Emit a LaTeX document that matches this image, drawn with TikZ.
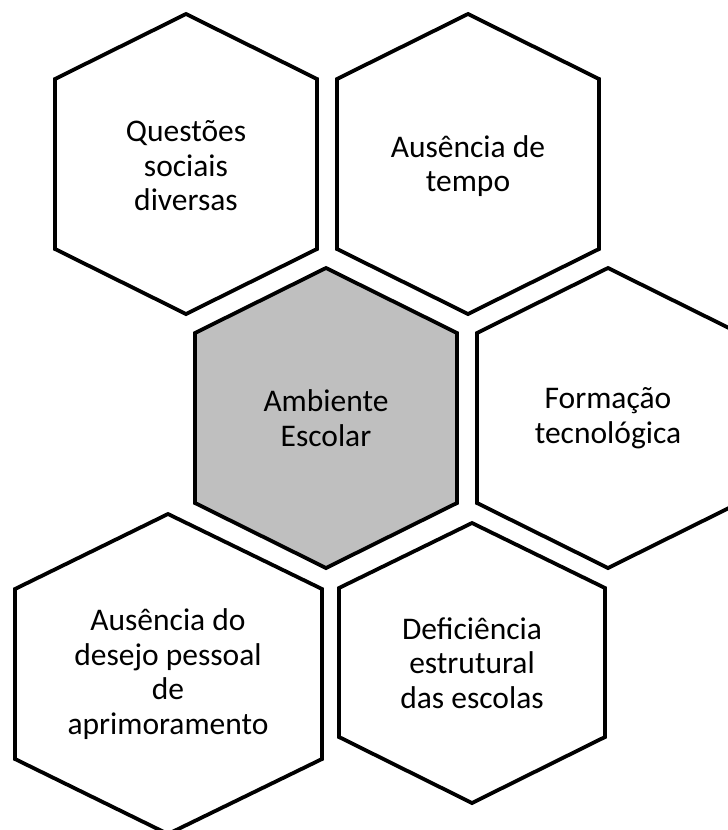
\documentclass[tikz,border=0pt]{standalone}
\usepackage{fontspec}
\setmainfont{Carlito}
\tikzset{
  hexa/.style={draw=black,line width=3.8pt,fill=white},
  hexcore/.style={hexa,fill=black!25},
  hexlabel/.style={align=center,inner sep=0pt,font=\fontsize{31.5}{34.5}\selectfont}
}
\begin{document}
\begin{tikzpicture}[x=1pt,y=-1pt]
    \useasboundingbox (0,0) rectangle (728,830);
    \clip (0,0) rectangle (728,830);

    % upper row
    \draw[hexa] (186,14)--(317,79)--(317,249)--(186,314)--(55,249)--(55,79)--cycle;
    \node[hexlabel] (social) at (186,166) {Questões\\sociais\\diversas};
    \draw[hexa] (468,14)--(599,79)--(599,249)--(468,314)--(337,249)--(337,79)--cycle;
    \node[hexlabel] (tempo) at (468,166) {Ausência de\\tempo};

    % middle row
    \draw[hexcore] (326,268)--(457,333)--(457,503)--(326,568)--(195,503)--(195,333)--cycle;
    \node[hexlabel] (ambiente) at (326,418) {Ambiente\\Escolar};
    \draw[hexa] (608,268)--(739,333)--(739,503)--(608,568)--(477,503)--(477,333)--cycle;
    \node[hexlabel] (formacao) at (608,418) {Formação\\tecnológica};

    % lower row
    \draw[hexa] (168,514)--(322,589)--(322,759)--(168,834)--(15,759)--(15,589)--cycle;
    \node[hexlabel] (desejo) at (168,674) {Ausência do\\desejo pessoal\\de\\aprimoramento};
    \draw[hexa] (472,523)--(605,588)--(605,737)--(472,803)--(339,737)--(339,588)--cycle;
    \node[hexlabel] (estrutura) at (472,663) {Deficiência\\estrutural\\das escolas};
\end{tikzpicture}
\end{document}
